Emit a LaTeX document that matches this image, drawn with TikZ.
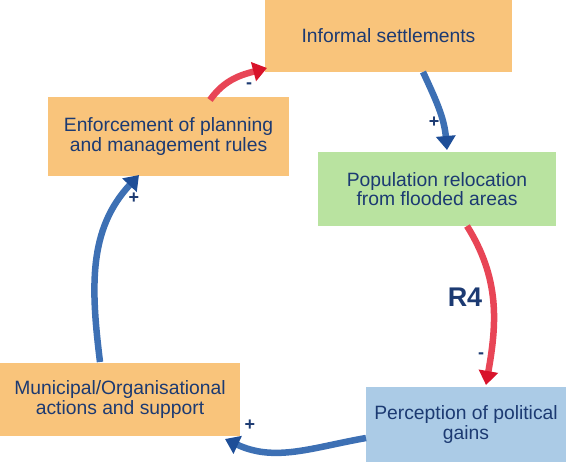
\documentclass[tikz,border=0pt]{standalone}
\usepackage{fontspec}
\setmainfont{Liberation Sans}
\usetikzlibrary{arrows.meta}
\definecolor{boxorange}{HTML}{F9C47B}
\definecolor{boxgreen}{HTML}{B9E3A0}
\definecolor{boxblue}{HTML}{ABCBE6}
\definecolor{txt}{HTML}{1C3A72}
\definecolor{blueline}{HTML}{3D70B4}
\definecolor{bluetip}{HTML}{1E4E98}
\definecolor{redline}{HTML}{E84556}
\definecolor{redtip}{HTML}{D8132B}
\tikzset{
  box/.style={inner sep=0pt, align=center, text=txt, font=\fontsize{19.3}{19.5}\selectfont},
  posarrow/.style={draw=blueline, line width=6.5pt, -{Triangle[length=14pt,width=19pt,color=bluetip,fill=bluetip]}},
  negarrow/.style={draw=redline, line width=6.5pt, -{Triangle[length=14pt,width=19pt,color=redtip,fill=redtip]}},
  sign/.style={text=txt, font=\bfseries\fontsize{18}{18}\selectfont, inner sep=0pt},
}
\begin{document}
\begin{tikzpicture}[x=1pt,y=1pt]
\useasboundingbox (0,0) rectangle (567,462);
\node[box, fill=boxorange, minimum width=247pt, minimum height=72pt] (inf) at (388.5,426) {Informal settlements};
\node[box, fill=boxorange, minimum width=241pt, minimum height=79pt] (enf) at (168.5,325.5) {Enforcement of planning\\and management rules};
\node[box, fill=boxgreen, minimum width=238pt, minimum height=74pt] (pop) at (437,273) {Population relocation\\from flooded areas};
\node[box, fill=boxorange, minimum width=240pt, minimum height=73pt] (mun) at (120,62.5) {Municipal/Organisational\\actions and support};
\node[box, fill=boxblue, minimum width=200pt, minimum height=75pt] (per) at (466,37.5) {Perception of political\\gains};

\coordinate (a1) at (210,362);
\coordinate (a2) at (267,394);
\coordinate (b1) at (423,390);
\coordinate (b2) at (447,312);
\coordinate (c1) at (467,236);
\coordinate (c2) at (486,77);
\coordinate (d1) at (366,24);
\coordinate (d2) at (225,23);
\coordinate (e1) at (100,100);
\coordinate (e2) at (139,287);

\draw[negarrow] (a1) to[out=55,in=195] (a2);
\draw[posarrow] (b1) to[out=-65,in=95] (b2);
\draw[negarrow] (c1) to[out=-58,in=80] (c2);
\draw[posarrow] (d1) to[out=190,in=-25] (d2);
\draw[posarrow] (e1) to[out=97,in=-133] (e2);

\node[sign] (s1) at (249,376) {-};
\node[sign] (s2) at (434,340) {+};
\node[text=txt, font=\bfseries\fontsize{27}{27}\selectfont, inner sep=0pt] (r4) at (465,165) {R4};
\node[sign] (s3) at (481,106) {-};
\node[sign] (s4) at (250,37) {+};
\node[sign] (s5) at (134,264) {+};
\end{tikzpicture}
\end{document}
